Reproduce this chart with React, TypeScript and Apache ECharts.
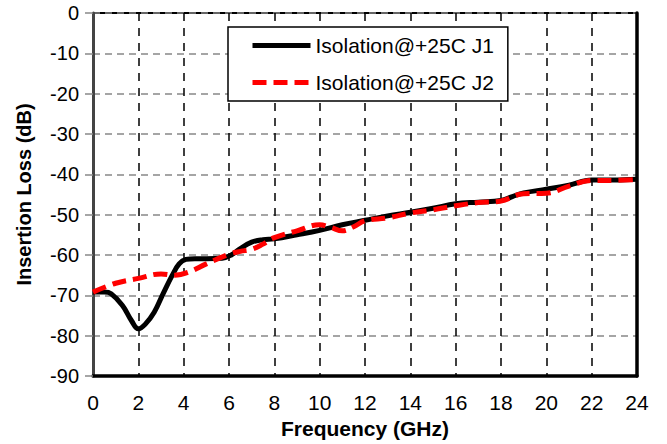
import React, { useEffect, useRef } from "react";
import * as echarts from "echarts";

const xTicks = [0, 2, 4, 6, 8, 10, 12, 14, 16, 18, 20, 22, 24];
const yTicks = [0, -10, -20, -30, -40, -50, -60, -70, -80, -90];

const seriesNames = ["Isolation@+25C J1", "Isolation@+25C J2"];

const j1: [number, number][] = [
  [0, -69.2], [0.5, -69.2], [0.8, -69.6], [1.3, -72.5], [1.7, -76.3], [2, -78.3],
  [2.3, -77.2], [2.7, -74.2], [3.1, -69.5], [3.5, -65], [3.8, -62.2], [4.1, -61.1],
  [4.5, -60.9], [5, -60.9], [5.7, -60.8], [6.1, -60], [6.5, -58.4], [7, -56.8],
  [7.5, -56.2], [8, -56], [9, -55], [10, -53.9], [11, -52.5], [12, -51.4],
  [13, -50.3], [14, -49.4], [15, -48.4], [16, -47.3], [17, -46.9], [18, -46.5],
  [18.5, -45.5], [19, -44.6], [20, -43.7], [21, -42.7], [22, -41.4], [23, -41.4],
  [24, -41.2],
];

const j2: [number, number][] = [
  [0, -69.2], [1, -67], [2, -65.8], [3, -64.7], [3.6, -65], [4.2, -64.3],
  [5, -62.2], [6, -59.8], [6.5, -59.1], [7, -58.6], [7.5, -57.3], [8, -55.7],
  [9, -54], [10, -52.5], [10.5, -53.2], [11, -54], [11.5, -53], [12, -51.5],
  [13, -50.8], [14, -49.6], [15, -48.8], [16, -47.8], [17, -47], [18, -46.6],
  [19, -44.8], [20, -44.7], [21, -42.9], [22, -41.5], [23, -41.5], [24, -41.3],
];

export default function App() {
  const ref = useRef<HTMLDivElement>(null);
  useEffect(() => {
    document.body.style.margin = "0";
    const chart = echarts.init(ref.current!, undefined, { renderer: "svg" });
    const font = "Arial, 'Liberation Sans', sans-serif";
    chart.setOption({
      animation: false,
      textStyle: { fontFamily: font },
      grid: {
        left: 93, right: 30, top: 13, bottom: 66,
        show: true, borderColor: "#000", borderWidth: 2, backgroundColor: "#fff",
      },
      legend: {
        orient: "vertical",
        left: 228,
        top: 27,
        backgroundColor: "#fff",
        borderColor: "#000",
        borderWidth: 1.5,
        borderRadius: 0,
        padding: [8, 14, 8, 22],
        itemWidth: 58,
        itemHeight: 14,
        itemGap: 16,
        itemTextGap: 5,
        textStyle: { fontSize: 21, color: "#000", fontFamily: font },
        data: [
          {
            name: seriesNames[0],
            itemStyle: { opacity: 0 },
            lineStyle: { width: 5, type: "solid", color: "#000" },
          },
          {
            name: seriesNames[1],
            itemStyle: { opacity: 0 },
            lineStyle: { width: 5, type: [14, 7], color: "#ff0000" },
          },
        ],
      },
      xAxis: [
        {
          type: "value",
          min: 0,
          max: 24,
          interval: 2,
          name: "Frequency (GHz)",
          nameLocation: "middle",
          nameGap: 42,
          nameTextStyle: { fontSize: 21, fontWeight: "bold", color: "#000", fontFamily: font },
          axisLine: { show: true, onZero: false, lineStyle: { color: "#000", width: 3.5 } },
          axisTick: { show: false },
          axisLabel: {
            fontSize: 21, color: "#000", margin: 16, fontFamily: font,
            formatter: (v: number) => (xTicks.includes(v) ? String(v) : ""),
          },
          splitLine: { show: true, lineStyle: { color: "#000", width: 1.5, type: [8, 7] } },
        },
      ],
      yAxis: [
        {
          type: "value",
          min: -90,
          max: 0,
          interval: 10,
          name: "Insertion Loss (dB)",
          nameLocation: "middle",
          nameGap: 59,
          nameTextStyle: { fontSize: 20, fontWeight: "bold", color: "#000", fontFamily: font },
          axisLine: { show: true, onZero: false, lineStyle: { color: "#444", width: 3 } },
          axisTick: { show: true, length: 8, lineStyle: { color: "#888", width: 1.5 } },
          axisLabel: {
            fontSize: 20, color: "#000", margin: 14, fontFamily: font,
            formatter: (v: number) => (yTicks.includes(v) ? String(v) : ""),
          },
          splitLine: { show: true, lineStyle: { color: "#888", width: 1.5, type: [7, 5] } },
        },
        {
          type: "value",
          min: -90,
          max: 0,
          interval: 10,
          position: "right",
          axisLine: { show: true, onZero: false, lineStyle: { color: "#000", width: 3.5 } },
          axisTick: { show: false },
          axisLabel: { show: false },
          splitLine: { show: false },
        },
      ],
      series: [
        {
          name: seriesNames[0],
          type: "line",
          data: j1,
          smooth: 0.4,
          showSymbol: false,
          symbol: "none",
          lineStyle: { color: "#000", width: 5 },
          itemStyle: { color: "#000" },
          z: 3,
        },
        {
          name: seriesNames[1],
          type: "line",
          data: j2,
          smooth: 0.4,
          showSymbol: false,
          symbol: "none",
          lineStyle: { color: "#ff0000", width: 5, type: [14, 7] },
          itemStyle: { color: "#ff0000" },
          z: 4,
        },
      ],
    });
    return () => chart.dispose();
  }, []);
  return <div ref={ref} style={{ width: 667, height: 444 }} />;
}
